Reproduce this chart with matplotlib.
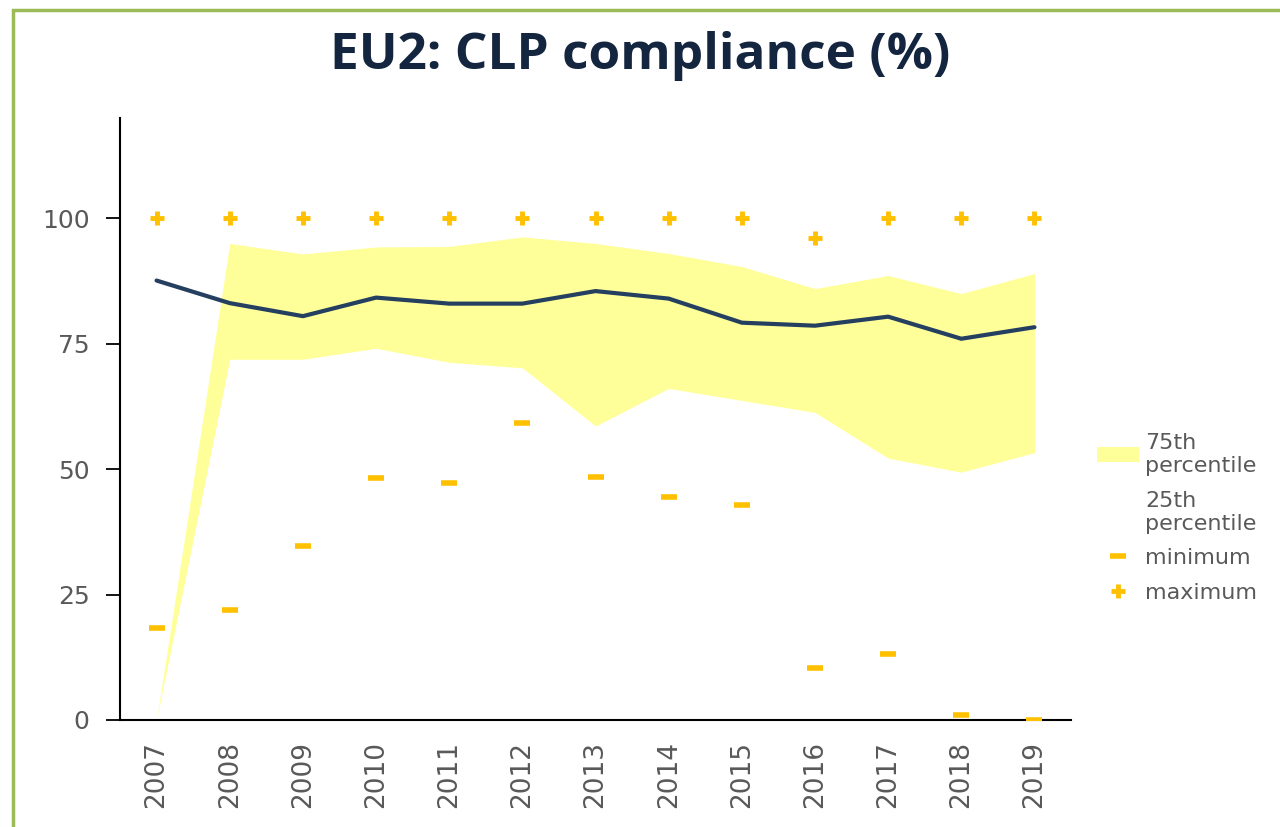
import matplotlib

matplotlib.use("Agg")
import matplotlib.pyplot as plt
import numpy as np
from matplotlib.patches import Patch, Rectangle
from matplotlib.lines import Line2D

# Datos
years = ["2007", "2008", "2009", "2010", "2011", "2012", "2013",
         "2014", "2015", "2016", "2017", "2018", "2019"]
median = [87.6, 83.1, 80.5, 84.2, 83.0, 83.0, 85.5, 84.0, 79.2, 78.6, 80.4, 76.0, 78.3]
p75 = [0.0, 95.0, 92.9, 94.3, 94.4, 96.3, 95.0, 93.0, 90.4, 86.0, 88.6, 85.0, 89.0]
p25 = [0.0, 71.9, 71.9, 74.1, 71.3, 70.2, 58.6, 66.1, 63.7, 61.3, 52.2, 49.4, 53.3]
minimum = [18.3, 21.9, 34.7, 48.2, 47.2, 59.2, 48.4, 44.4, 42.8, 10.4, 13.2, 0.9, 0.0]
maximum = [100, 100, 100, 100, 100, 100, 100, 100, 100, 96.1, 100, 100, 100]

GRIS = "#595959"
AMARILLO = "#FFFF99"
ORO = "#FFC000"
AZUL = "#243F60"

fig = plt.figure(figsize=(12.8, 8.27), dpi=100)
ax = fig.add_axes([0.09375, 0.1294, 0.7430, 0.7279])

x = np.arange(len(years))
ax.fill_between(x, p25, p75, color=AMARILLO, linewidth=0, zorder=1)
ax.plot(x, median, color=AZUL, linewidth=3, solid_capstyle="round", zorder=3)
ax.plot(x, minimum, linestyle="none", marker="_", markersize=12, markeredgewidth=4,
        color=ORO, zorder=4)
ax.plot(x, maximum, linestyle="none", marker="+", markersize=10, markeredgewidth=3.5,
        color=ORO, zorder=4)

ax.set_xlim(-0.5, len(years) - 0.5)
ax.set_ylim(0, 120)
ax.set_yticks([0, 25, 50, 75, 100])
ax.set_xticks(x)
ax.set_xticklabels(years, rotation=90)
ax.tick_params(axis="y", length=10, width=1.3, pad=12, labelsize=18, labelcolor=GRIS)
ax.tick_params(axis="x", length=0, pad=15, labelsize=19, labelcolor=GRIS)
for lado in ["top", "right"]:
    ax.spines[lado].set_visible(False)
for lado in ["left", "bottom"]:
    ax.spines[lado].set_linewidth(1.5)
    ax.spines[lado].set_color("black")

fig.suptitle("EU2: CLP compliance (%)", x=0.5, y=0.963, fontsize=37,
             fontweight="bold", family="Open Sans", color="#14253F")

handles = [
    Patch(facecolor=AMARILLO, edgecolor="none"),
    Patch(facecolor="none", edgecolor="none"),
    Line2D([], [], linestyle="none", marker="_", markersize=12, markeredgewidth=4, color=ORO),
    Line2D([], [], linestyle="none", marker="+", markersize=10, markeredgewidth=3.5, color=ORO),
]
labels = ["75th\npercentile", "25th\npercentile", "minimum", "maximum"]
fig.legend(handles, labels, loc="upper left", bbox_to_anchor=(0.848, 0.49),
           frameon=False, fontsize=16, labelcolor=GRIS, handlelength=1.9,
           handletextpad=0.3, labelspacing=0.65, borderpad=0)

# Marco verde del gráfico (solo visibles los bordes superior e izquierdo)
fig.patches.append(Rectangle((13 / 1280, -0.1), 1.2, 1 - 10 / 827 + 0.1,
                             transform=fig.transFigure, fill=False,
                             edgecolor="#9BBB59", linewidth=2.5))

fig.savefig("out.png", dpi=100)
plt.close("all")
